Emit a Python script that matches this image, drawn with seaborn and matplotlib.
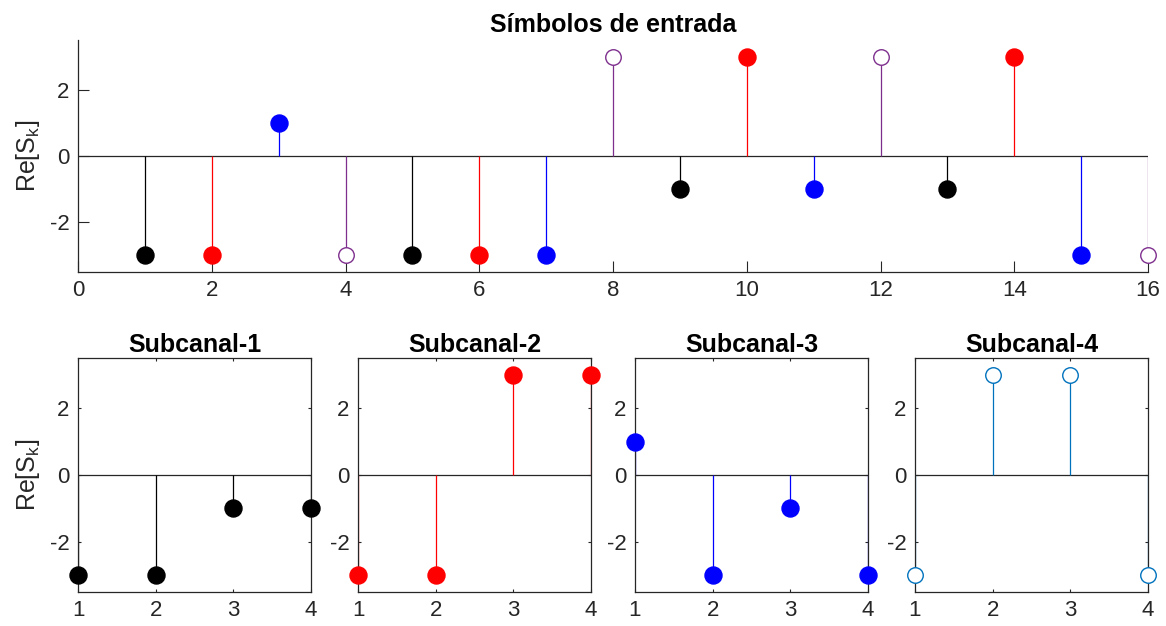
import numpy as np
import pandas as pd
import matplotlib
matplotlib.use("Agg")
import matplotlib.pyplot as plt
import seaborn as sns

# ---- data ----
k_all = list(range(1, 17))
re_all = [-3, -3, 1, -3, -3, -3, -3, 3, -1, 3, -1, 3, -1, 3, -3, -3]
canal_all = [1, 2, 3, 4] * 4
k_sub = [1, 2, 3, 4]
sub_vals = {
    1: [-3, -3, -1, -1],
    2: [-3, -3, 3, 3],
    3: [1, -3, -1, -3],
    4: [-3, 3, 3, -3],
}
top_xticks = list(range(0, 17, 2))
yticks = [-2, 0, 2]
sub_titles = ["Subcanal-1", "Subcanal-2", "Subcanal-3", "Subcanal-4"]
main_title = "Símbolos de entrada"
ylab = "Re[S$_k$]"

# ---- styles ----
top_colors = {1: "#000000", 2: "#FF0000", 3: "#0000FF", 4: "#7E2F8E"}
sub_colors = {1: "#000000", 2: "#FF0000", 3: "#0000FF", 4: "#0072BD"}
hollow = {1: False, 2: False, 3: False, 4: True}
AX = "#262626"

sns.set_theme(style="ticks")
plt.rcParams["font.family"] = ["Liberation Sans", "DejaVu Sans"]
plt.rcParams["mathtext.default"] = "regular"
plt.rcParams["axes.unicode_minus"] = False
plt.rcParams["axes.edgecolor"] = AX
plt.rcParams["xtick.color"] = AX
plt.rcParams["ytick.color"] = AX
plt.rcParams["xtick.labelcolor"] = AX
plt.rcParams["ytick.labelcolor"] = AX

W, H = 1166, 626
fig = plt.figure(figsize=(W / 100, H / 100), dpi=100)

TICK_FS = 16
TITLE_FS = 18
YLAB_FS = 18


def px_axes(l, t, r, b):
    return fig.add_axes([l / W, 1 - b / H, (r - l) / W, (b - t) / H])


def draw_stems(ax, x, y, color, open_marker, size):
    ax.vlines(x, 0, y, colors=color, linewidth=0.9, zorder=2)
    df = pd.DataFrame({"x": x, "y": y})
    sns.scatterplot(data=df, x="x", y="y", ax=ax, color=color, s=size,
                    linewidth=1.0, edgecolor=color, zorder=4, clip_on=False,
                    legend=False)
    coll = ax.collections[-1]
    if open_marker:
        coll.set_facecolor("white")
        coll.set_edgecolor(color)
        coll.set_linewidth(1.0)
    else:
        coll.set_facecolor(color)
        coll.set_edgecolor(color)


# ---- top axes ----
ax0 = px_axes(78, 40, 1148, 272)
ax0.axhline(0, color=AX, linewidth=0.9, zorder=1.5)
for c in [1, 2, 3, 4]:
    xs = [k for k, cc in zip(k_all, canal_all) if cc == c]
    ys = [v for v, cc in zip(re_all, canal_all) if cc == c]
    draw_stems(ax0, xs, ys, top_colors[c], hollow[c], 125 if hollow[c] else 150)
ax0.set_xlim(0, 16)
ax0.set_ylim(-3.5, 3.5)
ax0.set_xticks(top_xticks)
ax0.set_yticks(yticks)
ax0.set_xlabel("")
ax0.set_ylabel(ylab, fontsize=YLAB_FS, color=AX, labelpad=6)
ax0.set_title(main_title, fontsize=TITLE_FS, fontweight="bold", color="black", pad=6)
ax0.tick_params(direction="in", length=8, width=0.8, labelsize=TICK_FS, pad=6)
for s in ["top", "right"]:
    ax0.spines[s].set_visible(False)
for s in ["left", "bottom"]:
    ax0.spines[s].set_linewidth(0.9)

# ---- bottom axes ----
lefts = [78, 358, 635, 915]
for i, c in enumerate([1, 2, 3, 4]):
    l = lefts[i]
    ax = px_axes(l, 358, l + 233, 592)
    ax.axhline(0, color=AX, linewidth=0.9, zorder=1.5)
    draw_stems(ax, k_sub, sub_vals[c], sub_colors[c], hollow[c],
               125 if hollow[c] else 150)
    ax.set_xlim(1, 4)
    ax.set_ylim(-3.5, 3.5)
    ax.set_xticks(k_sub)
    ax.set_yticks(yticks)
    ax.set_xlabel("")
    ax.set_ylabel(ylab if i == 0 else "", fontsize=YLAB_FS, color=AX, labelpad=6)
    ax.set_title(sub_titles[i], fontsize=TITLE_FS, fontweight="bold",
                 color="black", pad=4)
    ax.tick_params(direction="in", length=2.5, width=0.8, labelsize=TICK_FS,
                   pad=6, top=True, right=True)
    for s in ax.spines.values():
        s.set_linewidth(0.9)

fig.savefig("out.png", dpi=100, facecolor="white")
